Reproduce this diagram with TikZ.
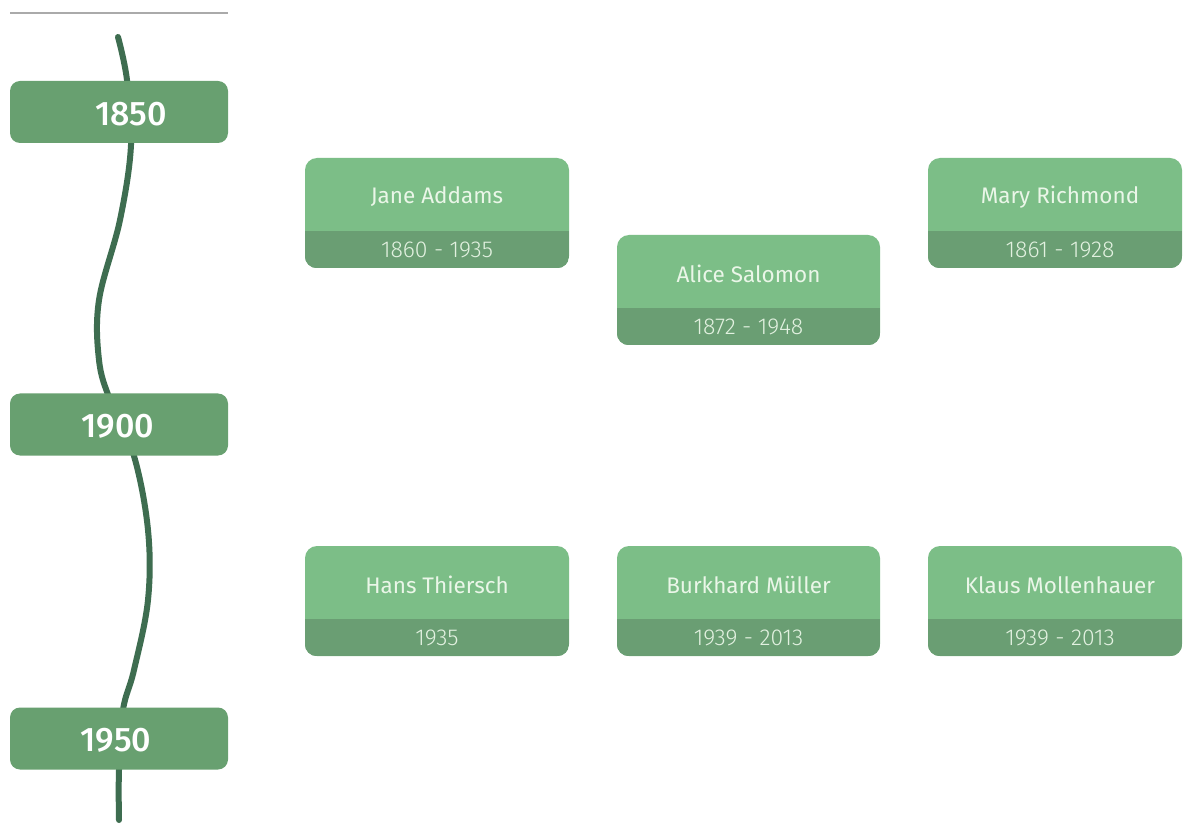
\documentclass[tikz,border=0pt]{standalone}
\usepackage{fontspec}
\setmainfont{Fira Sans}
\newfontfamily\yearfont{Fira Sans Medium}
\newfontfamily\datefont{Fira Sans Light}
\definecolor{boxlight}{HTML}{7CBE87}
\definecolor{boxstrip}{HTML}{6A9E73}
\definecolor{yearbox}{HTML}{68A070}
\definecolor{wave}{HTML}{3E6D50}
\definecolor{rulegray}{HTML}{AAAAAA}
\definecolor{nametxt}{HTML}{EAF6E8}
\definecolor{datetxt}{HTML}{E2F1E0}
\tikzset{
  pbox/.style={rectangle, rounded corners=12pt, fill=boxlight, draw=none, inner sep=0pt, minimum height=110pt},
  ybox/.style={rectangle, rounded corners=10pt, fill=yearbox, draw=none, inner sep=0pt, minimum width=218pt, minimum height=62pt},
  yeartext/.style={font=\yearfont\fontsize{34}{34}\selectfont, text=white, inner sep=0pt},
  nametext/.style={font=\fontsize{22.5}{22.5}\selectfont, text=nametxt, inner sep=0pt},
  datetext/.style={font=\datefont\fontsize{23}{23}\selectfont, text=datetxt, inner sep=0pt},
  waveline/.style={draw=wave, line width=6pt, line cap=round},
}
\newcommand\personbox[7]{% id, left, width, top, textcx, Name, Dates
  \node[pbox, minimum width=#3pt] (#1) at (#2+#3/2,#4+55) {};
  \begin{scope}
    \clip[rounded corners=12pt] (#1.south west) rectangle (#1.north east);
    \fill[boxstrip] ([yshift=37pt]#1.south west) rectangle (#1.south east);
  \end{scope}
  \node[nametext] (#1-name) at (#5,#4+39) {#6};
  \node[datetext] (#1-date) at (#5,#4+92) {#7};
}
\begin{document}
\begin{tikzpicture}[x=1pt,y=-1pt]
\useasboundingbox[fill=white] (0,0) rectangle (1184,834);
% top rule
\coordinate (ruleL) at (10,13);
\coordinate (ruleR) at (228,13);
\draw[rulegray, line width=2pt] (ruleL) -- (ruleR);
% wave
\draw[waveline] plot[smooth, tension=0.6] coordinates {(118,37) (127,80) (131,145) (120,220) (99,300) (99,360) (110,400) (134,456) (148,530) (148,600) (134,670) (123,710) (119,770) (119,820)};
% year boxes
\node[ybox] (y1850) at (119,112) {};
\node[yeartext] (t1850) at (131,114) {1850};
\node[ybox] (y1900) at (119,424.5) {};
\node[yeartext] (t1900) at (118,426) {1900};
\node[ybox] (y1950) at (119,738.5) {};
\node[yeartext] (t1950) at (116,740) {1950};
% person boxes
\personbox{jane}{305}{264}{158}{437}{Jane Addams}{1860 - 1935}
\personbox{alice}{617}{263}{235}{748.5}{Alice Salomon}{1872 - 1948}
\personbox{mary}{928}{254}{158}{1060}{Mary Richmond}{1861 - 1928}
\personbox{hans}{305}{264}{546}{437}{Hans Thiersch}{1935}
\personbox{burk}{617}{263}{546}{748.5}{Burkhard Müller}{1939 - 2013}
\personbox{klaus}{928}{254}{546}{1060}{Klaus Mollenhauer}{1939 - 2013}
\end{tikzpicture}
\end{document}
